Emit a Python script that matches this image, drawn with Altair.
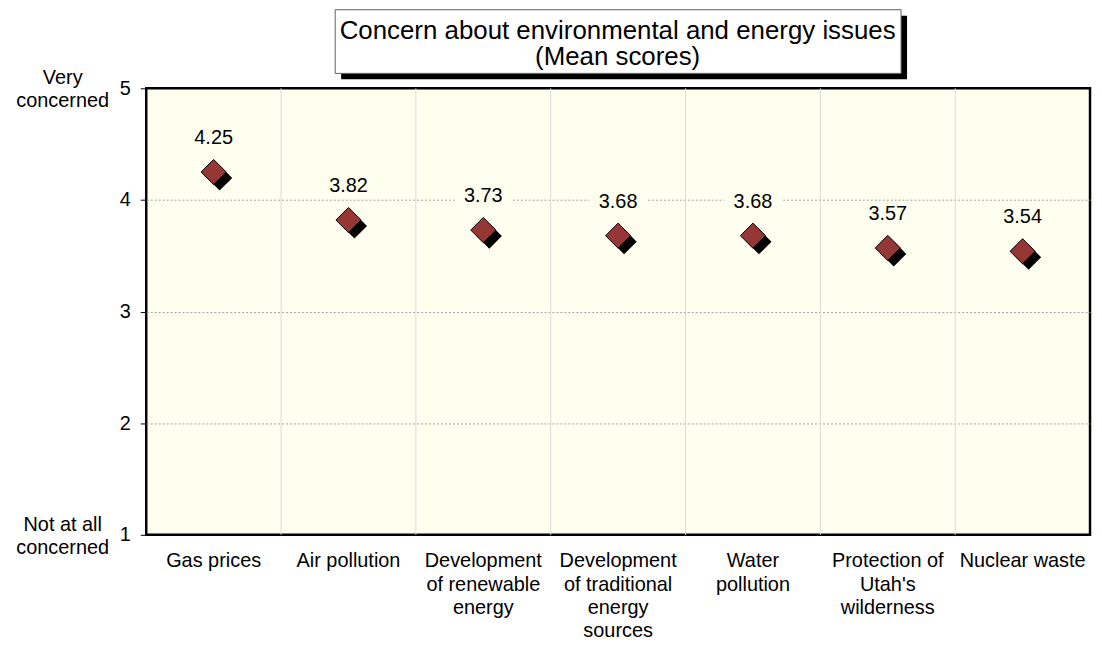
import altair as alt
import pandas as pd

FONT = "Liberation Sans"
PLOT_BG = "#FFFFEF"

categories = [
    "Gas prices",
    "Air pollution",
    "Development|of renewable|energy",
    "Development|of traditional|energy|sources",
    "Water|pollution",
    "Protection of|Utah's|wilderness",
    "Nuclear waste",
]
values = [4.25, 3.82, 3.73, 3.68, 3.68, 3.57, 3.54]

end_values = [5, 1]
end_labels = ["Very|concerned", "Not at all|concerned"]

title_lines = "Concern about environmental and energy issues|(Mean scores)"

df = pd.DataFrame({"cat": categories, "value": values})
ends = pd.DataFrame({"value": end_values, "txt": end_labels})
one = pd.DataFrame({"k": [0]})

x_scale = alt.Scale(type="band", paddingInner=0, paddingOuter=0, domain=categories)
x_axis = alt.Axis(
    title=None, labelExpr="split(datum.label, '|')", labelAngle=0, ticks=False,
    domain=False, grid=False, labelFontSize=20, labelPadding=16, labelLineHeight=23.5,
    labelLimit=400, labelColor="black", labelFont=FONT, labelOverlap=False,
)
x_enc = alt.X("cat:N", sort=categories, scale=x_scale, axis=x_axis)

y_scale = alt.Scale(domain=[1, 5], nice=False, zero=False)
y_axis = alt.Axis(
    values=[1, 2, 3, 4, 5], title=None, domain=False, tickSize=6, tickColor="black",
    labelFontSize=20, labelPadding=10, labelColor="black", labelFont=FONT, format="d",
    grid=True, gridDash=[2, 2], gridWidth=1,
    gridColor={"condition": {"test": "datum.value == 1 || datum.value == 5", "value": "transparent"},
               "value": "#a0a0a0"},
)
y_enc = alt.Y("value:Q", scale=y_scale, axis=y_axis)

separators = alt.Chart(df).transform_filter(
    alt.datum.cat != categories[0]
).mark_rule(color="#dadada", strokeWidth=1).encode(
    x=alt.X("cat:N", sort=categories, scale=x_scale, axis=x_axis, bandPosition=0)
)

label_boxes = alt.Chart(df).mark_point(
    shape="M-1,-0.4L1,-0.4L1,0.4L-1,0.4Z", filled=True, fill=PLOT_BG, size=3364,
    yOffset=-34, opacity=1, strokeWidth=0,
).encode(x=x_enc, y=y_enc)

value_text = alt.Chart(df).mark_text(
    dy=-34, fontSize=20, baseline="middle", font=FONT, color="black"
).encode(x=x_enc, y=y_enc, text=alt.Text("value:Q", format=".2f"))

shadow = alt.Chart(df).mark_point(
    shape="diamond", filled=True, color="black", size=640, xOffset=6, yOffset=6, opacity=1
).encode(x=x_enc, y=y_enc)

diamonds = alt.Chart(df).mark_point(
    shape="diamond", filled=True, fill="#953735", stroke="black", strokeWidth=1,
    size=640, opacity=1,
).encode(x=x_enc, y=y_enc)

end_text = alt.Chart(ends).mark_text(
    lineBreak="|", fontSize=20, lineHeight=23, align="center", baseline="middle",
    font=FONT, color="black", dy=-10,
).encode(x=alt.value(-84), y=y_enc, text="txt:N")

title_shadow = alt.Chart(one).mark_rect(color="black").encode(
    x=alt.value(196), x2=alt.value(765), y=alt.value(-73), y2=alt.value(-9)
)
title_box = alt.Chart(one).mark_rect(fill="white", stroke="#606060", strokeWidth=1).encode(
    x=alt.value(190), x2=alt.value(759), y=alt.value(-79), y2=alt.value(-15)
)
title_text = alt.Chart(one).mark_text(
    text=title_lines, lineBreak="|", fontSize=26, lineHeight=27, align="center",
    baseline="middle", font=FONT, color="black",
).encode(x=alt.value(474), y=alt.value(-58))

chart = alt.layer(
    separators, label_boxes, value_text, shadow, diamonds, end_text,
    title_shadow, title_box, title_text,
).properties(
    width=949, height=449,
    autosize=alt.AutoSizeParams(type="none"),
    padding={"left": 139, "top": 79, "right": 4, "bottom": 106},
    background="white",
).configure_view(
    fill=PLOT_BG, stroke="black", strokeWidth=2.5
)

chart.save("out.html", embed_options={"renderer": "svg", "actions": False})
